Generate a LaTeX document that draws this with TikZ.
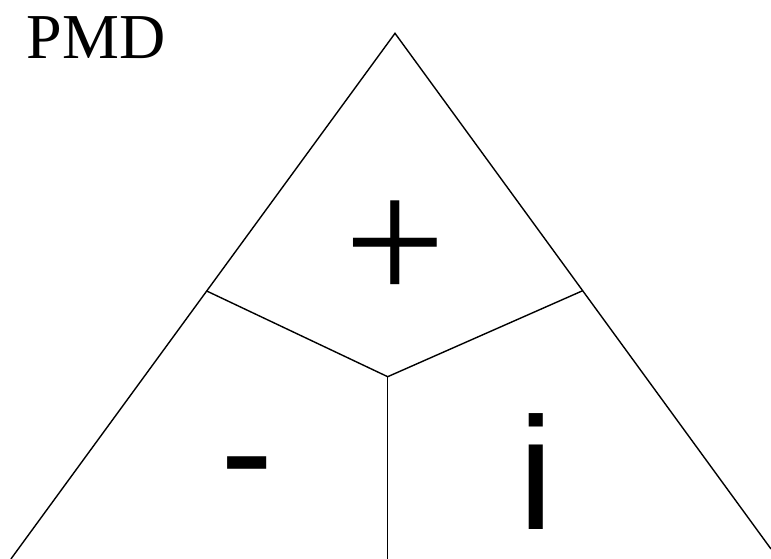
\documentclass[tikz,border=0pt]{standalone}
\usepackage{fontspec}
\setmainfont{Liberation Serif}
\newfontfamily\arialfont{Liberation Sans}
\begin{document}
\begin{tikzpicture}[x=1pt,y=-1pt,
  edge/.style={line width=1.4pt,black},
  lbl/.style={inner sep=0pt,outer sep=0pt,anchor=base,text depth=0pt}]
\useasboundingbox (0,0) rectangle (771,559);
\coordinate (apex) at (395,33.3);
\coordinate (bl) at (10.9,559);
\coordinate (br) at (771,549);
\coordinate (jl) at (206.7,291);
\coordinate (jr) at (582.7,290.7);
\coordinate (jc) at (387.7,376.7);
\coordinate (bc) at (387.7,559);
\draw[edge] (bl) -- (apex) -- (br);
\draw[edge] (jl) -- (jc) -- (jr);
\draw[edge] (jc) -- (bc);
\node[lbl,anchor=base west] (pmd) at (27,59) {\fontsize{64}{64}\selectfont PMD};
\node[lbl] (plus) at (395.5,302) {\fontsize{180}{180}\selectfont +};
\node[lbl] (minus) at (247,505) {\arialfont\fontsize{160}{160}\selectfont -};
\node[lbl] (ii) at (536.5,529) {\arialfont\fontsize{160}{160}\selectfont i};
\end{tikzpicture}
\end{document}
